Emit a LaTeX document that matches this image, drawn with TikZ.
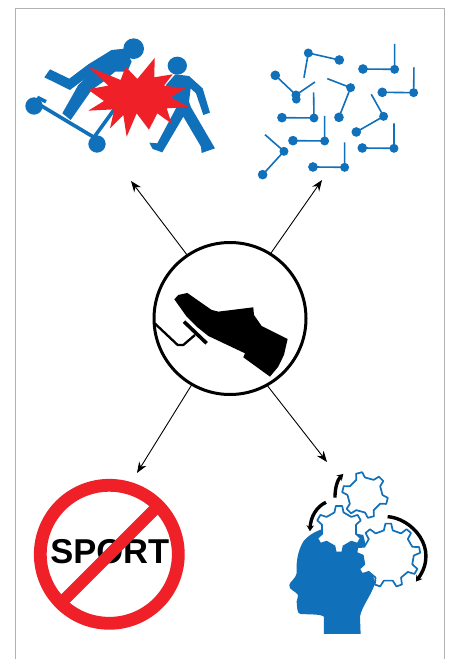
\documentclass[tikz,border=0pt]{standalone}
\usepackage{fontspec}
\setmainfont{Liberation Sans}
\usetikzlibrary{arrows.meta}
\definecolor{iconblue}{HTML}{1170BA}
\definecolor{iconred}{HTML}{EF2027}
\tikzset{
  frameline/.style={draw=black!30,line width=1},
  spoke/.style={draw=black,line width=0.9,-{Stealth[length=11,width=8.5]}},
  hubring/.style={circle,draw=black,line width=3,minimum size=152,inner sep=0,outer sep=0},
  curvearrow/.style={draw=black,line width=3.4,-{Stealth[length=6,width=7.5]}},
  bluefill/.style={fill=iconblue,draw=none},
  scootline/.style={draw=iconblue,line width=1.6},
  gearline/.style={draw=iconblue,fill=white,line width=1.7,line join=round},
}
% centre x, centre y, outer radius, inner radius, teeth, angle of the first tooth
\newcommand{\geartooth}[6]{%
  \pgfmathsetmacro{\gstep}{360/#5}
  \path[gearline] ([shift={(#1,#2)}]#6-0.13*\gstep:#3)
  \foreach \gi in {1,...,#5}{
    -- ([shift={(#1,#2)}]#6+\gi*\gstep-\gstep+0.13*\gstep:#3)
    -- ([shift={(#1,#2)}]#6+\gi*\gstep-\gstep+0.25*\gstep:#4)
    -- ([shift={(#1,#2)}]#6+\gi*\gstep-0.25*\gstep:#4)
    -- ([shift={(#1,#2)}]#6+\gi*\gstep-0.13*\gstep:#3)
  } -- cycle;%
}
% joint x,y ; dot x,y ; free x,y  (zoom coordinates)
\newcommand{\scooter}[6]{%
  \draw[scootline,x=0.3333pt,y=-0.3333pt,shift={(750,90)}] (#5,#6) -- (#1,#2) -- (#3,#4);
  \fill[iconblue,x=0.3333pt,y=-0.3333pt,shift={(750,90)}] (#1,#2) circle[radius=13.5] (#3,#4) circle[radius=14.5];%
}
\begin{document}
\begin{tikzpicture}[x=1pt,y=-1pt]
\useasboundingbox (0,0) rectangle (452,659);
\fill[white] (0,0) rectangle (452,659);
\draw[frameline] (15.5,659) -- (15.5,8) -- (444,8) -- (444,659);

% hub
\node[hubring] (hub) at (230,318.5) {};
\fill[black,x=0.3333pt,y=-0.3333pt,shift={(390,690)}] (133,208) -- (145,195) -- (172,189) -- (245,240) -- (265,245) -- (370,232) -- (372,255) -- (395,288) -- (473,327) -- (462,375) -- (445,410) -- (420,440) -- (340,382) -- (345,370) -- (235,318) -- (200,290) -- (170,260) -- cycle;
\draw[black,line width=3.6,x=0.3333pt,y=-0.3333pt,shift={(390,690)}] (162,275) -- (230,340);
\draw[black,line width=2.3,line join=round,x=0.3333pt,y=-0.3333pt,shift={(390,690)}] (74,280) -- (143,345) -- (160,345) -- (195,315);

% arrow ends
\coordinate (tl) at (131,181);
\coordinate (tr) at (322,180);
\coordinate (bl) at (137,473);
\coordinate (br) at (327,462);
\draw[spoke] (hub.124) -- (tl);
\draw[spoke] (hub.58) -- (tr);
\draw[spoke] (hub.240) -- (bl);
\draw[spoke] (hub.299) -- (br);

% collision icon
\begin{scope}[x=0.3333pt,y=-0.3333pt,shift={(60,60)}]
  \fill[iconblue] (42,258) circle[radius=26] (231,372) circle[radius=26] (341,86) circle[radius=31];
  \draw[iconblue,line width=3.6] (52,232) -- (78,245) (60,255) -- (222,352) -- (285,265);
  % rider
  \fill[bluefill] (275,90) -- (315,86) -- (335,125) -- (322,155) -- (285,155) -- (250,185) -- (215,210) -- (152,300) -- (127,280) -- (175,195) -- (200,172) -- (150,210) -- (73,172) -- (90,148) -- (148,176) -- (205,133) -- cycle;
  % walker
  \fill[iconblue] (472,137) ellipse[x radius=29,y radius=27];
  \fill[bluefill] (466,163) -- (507,168) -- (548,205) -- (570,278) -- (550,285) -- (528,220) -- (512,205) -- (507,245) -- (513,262) -- (585,385) -- (545,399) -- (543,380) -- (490,290) -- (427,397) -- (398,387) -- (388,368) -- (412,370) -- (468,265) -- (438,195) -- cycle;
  \fill[iconred] (205,140) -- (302,180) -- (317,140) -- (352,177) -- (404,114) -- (403,172) -- (458,163) -- (432,197) -- (496,205) -- (452,232) -- (506,261) -- (440,265) -- (455,311) -- (412,280) -- (387,329) -- (350,280) -- (320,350) -- (310,285) -- (270,325) -- (283,268) -- (205,272) -- (252,243) -- (203,208) -- (265,197) -- cycle;
\end{scope}

% scooters
\scooter{175}{69}{268}{90}{162}{143}
\scooter{434}{118}{339}{117}{434}{42}
\scooter{491}{188}{397}{187}{492}{112}
\scooter{138}{195}{76}{136}{195}{156}
\fill[iconblue,x=0.3333pt,y=-0.3333pt,shift={(750,90)}] (139,208) circle[radius=13];
\scooter{302}{173}{267}{262}{232}{146}
\scooter{192}{264}{96}{263}{191}{187}
\scooter{401}{259}{319}{306}{364}{193}
\scooter{224}{333}{129}{332}{224}{258}
\scooter{432}{355}{337}{354}{432}{280}
\scooter{102}{364}{38}{434}{45}{314}
\scooter{284}{412}{189}{411}{284}{337}

% no sport
\node[font=\bfseries\fontsize{34.5}{36}\selectfont,inner sep=0,text=black] (sport) at (109.8,551.5) {SPORT};
\draw[iconred,line width=12.8] (109.3,554.3) circle[radius=69];
\draw[iconred,line width=12] (63.5,600.5) -- (155.5,508.5);

% head
\begin{scope}[x=0.3333pt,y=-0.3333pt,shift={(840,1380)}]
  \fill[iconblue] (132,522) -- (132,470) .. controls (120,462) and (90,464) .. (60,462) .. controls (50,458) and (52,440) .. (50,425) .. controls (52,415) and (54,412) .. (54,405) .. controls (50,395) and (25,390) .. (28,375) .. controls (30,365) and (48,355) .. (50,340) .. controls (48,300) and (55,270) .. (70,245) .. controls (85,225) and (110,212) .. (135,205) -- (250,225) -- (285,370) .. controls (275,405) and (245,440) .. (240,470) -- (242,522) -- cycle;
\end{scope}
\geartooth{365}{495}{23}{17.5}{6}{-105}
\geartooth{339}{529.3}{23.5}{17.5}{6}{-90}
\geartooth{388.3}{555.5}{32}{25.5}{9}{-90}
\begin{scope}[x=0.3333pt,y=-0.3333pt,shift={(840,1380)}]
  \draw[curvearrow] (323,170) .. controls (395,175) and (480,265) .. (408,365);
  \draw[curvearrow] (138,127) .. controls (110,140) and (92,170) .. (90,214);
  \draw[curvearrow] (165,113) .. controls (165,85) and (172,60) .. (190,42);
\end{scope}
\end{tikzpicture}
\end{document}
